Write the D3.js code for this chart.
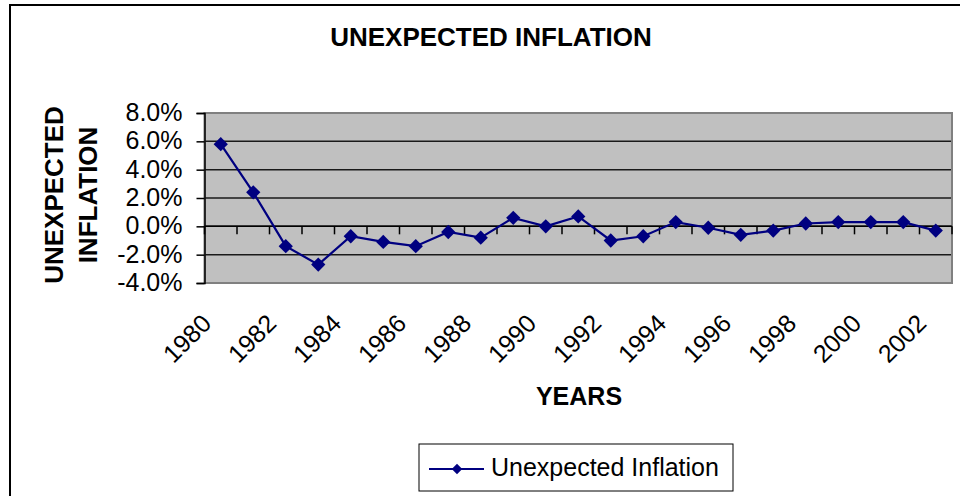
<!DOCTYPE html>
<html>
<head>
<meta charset="utf-8">
<script src="https://cdn.jsdelivr.net/npm/d3@7"></script>
<style>
  body { margin: 0; background: #fff; }
  text { font-family: "Liberation Sans", Arial, sans-serif; fill: #000; }
</style>
</head>
<body>
<div id="canvas"></div>
<script>
// years and unexpected inflation (fraction)
var years = [1980, 1981, 1982, 1983, 1984, 1985, 1986, 1987, 1988, 1989, 1990, 1991,
             1992, 1993, 1994, 1995, 1996, 1997, 1998, 1999, 2000, 2001, 2002];
var inflation = [0.058, 0.024, -0.014, -0.027, -0.007, -0.011, -0.014, -0.004, -0.008, 0.006, 0.000, 0.007,
                 -0.010, -0.007, 0.003, -0.001, -0.006, -0.003, 0.002, 0.003, 0.003, 0.003, -0.003];
var yTicks = [-0.04, -0.02, 0, 0.02, 0.04, 0.06, 0.08];
var labelYears = years.filter(function (d) { return d % 2 === 0; });

var width = 960, height = 496;
var plot = { left: 204.5, right: 952, top: 113, bottom: 283 };

var svg = d3.select("#canvas").append("svg")
    .attr("width", width)
    .attr("height", height);

// outer chart border
svg.append("rect")
    .attr("x", 10).attr("y", 5)
    .attr("width", 1000).attr("height", 600)
    .attr("fill", "#fff")
    .attr("stroke", "#000")
    .attr("stroke-width", 2);

var x = d3.scaleBand().domain(years).range([plot.left, plot.right]).padding(0);
var y = d3.scaleLinear().domain([-0.04, 0.08]).range([plot.bottom, plot.top]);

// plot background
svg.append("rect")
    .attr("x", plot.left).attr("y", plot.top)
    .attr("width", plot.right - plot.left)
    .attr("height", plot.bottom - plot.top)
    .attr("fill", "#c0c0c0");

// gridlines
svg.append("g")
    .selectAll("line")
    .data(yTicks.filter(function (d) { return d > -0.04 && d < 0.08; }))
    .enter().append("line")
    .attr("x1", plot.left).attr("x2", plot.right)
    .attr("y1", function (d) { return y(d); })
    .attr("y2", function (d) { return y(d); })
    .attr("stroke", "#1a1a1a")
    .attr("stroke-width", 1.5);

// plot border
svg.append("rect")
    .attr("x", plot.left).attr("y", plot.top)
    .attr("width", plot.right - plot.left)
    .attr("height", plot.bottom - plot.top)
    .attr("fill", "none")
    .attr("stroke", "#808080")
    .attr("stroke-width", 2);

// y axis
var pct = d3.format(".1%");
var yAxis = svg.append("g")
    .attr("transform", "translate(" + plot.left + ",0)")
    .call(d3.axisLeft(y).tickValues(yTicks).tickSize(8).tickPadding(14)
        .tickFormat(function (d) { return pct(d).replace("\u2212", "-"); }));
yAxis.select(".domain").attr("stroke", "#000").attr("stroke-width", 1.5);
yAxis.selectAll(".tick line").attr("stroke", "#000").attr("stroke-width", 1.5);
yAxis.selectAll(".tick text")
    .attr("font-size", "25px")
    .attr("font-family", "Liberation Sans, Arial, sans-serif")
    .attr("dy", "0.3em");

// x axis at zero, ticks between categories
var xAxisG = svg.append("g");
xAxisG.append("line")
    .attr("x1", plot.left).attr("x2", plot.right)
    .attr("y1", y(0)).attr("y2", y(0))
    .attr("stroke", "#000").attr("stroke-width", 1.5);
xAxisG.selectAll("line.tick")
    .data(years.concat([null]))
    .enter().append("line")
    .attr("class", "tick")
    .attr("x1", function (d, i) { return plot.left + i * x.step(); })
    .attr("x2", function (d, i) { return plot.left + i * x.step(); })
    .attr("y1", y(0)).attr("y2", y(0) + 8)
    .attr("stroke", "#000").attr("stroke-width", 1.5);

// x labels
svg.append("g")
    .selectAll("text")
    .data(labelYears)
    .enter().append("text")
    .attr("transform", function (d) {
        return "translate(" + (x(d) + x.bandwidth() / 2 - 8) + ",325) rotate(-45)";
    })
    .attr("text-anchor", "end")
    .attr("font-size", "25px")
    .text(function (d) { return d; });

// line + markers
var line = d3.line()
    .x(function (d, i) { return x(years[i]) + x.bandwidth() / 2; })
    .y(function (d) { return y(d); });

svg.append("path")
    .datum(inflation)
    .attr("d", line)
    .attr("fill", "none")
    .attr("stroke", "#000080")
    .attr("stroke-width", 2.2);

var diamond = d3.symbol().type(d3.symbolDiamond2).size(130);

svg.append("g")
    .selectAll("path")
    .data(inflation)
    .enter().append("path")
    .attr("d", diamond)
    .attr("transform", function (d, i) {
        return "translate(" + (x(years[i]) + x.bandwidth() / 2) + "," + y(d) + ")";
    })
    .attr("fill", "#000080");

// titles
svg.append("text")
    .attr("x", 491).attr("y", 46)
    .attr("text-anchor", "middle")
    .attr("font-size", "26px")
    .attr("font-weight", "bold")
    .text("UNEXPECTED INFLATION");

svg.append("text")
    .attr("x", 579).attr("y", 405)
    .attr("text-anchor", "middle")
    .attr("font-size", "25px")
    .attr("font-weight", "bold")
    .text("YEARS");

var yTitle = svg.append("text")
    .attr("transform", "translate(63,195) rotate(-90)")
    .attr("text-anchor", "middle")
    .attr("font-size", "26px")
    .attr("font-weight", "bold");
yTitle.append("tspan").attr("x", 0).attr("dy", 0).text("UNEXPECTED");
yTitle.append("tspan").attr("x", 0).attr("dy", 34).text("INFLATION");

// legend
var legend = svg.append("g");
legend.append("rect")
    .attr("x", 419).attr("y", 444)
    .attr("width", 314).attr("height", 47)
    .attr("fill", "#fff")
    .attr("stroke", "#000")
    .attr("stroke-width", 1);
legend.append("line")
    .attr("x1", 429).attr("x2", 484)
    .attr("y1", 469).attr("y2", 469)
    .attr("stroke", "#000080")
    .attr("stroke-width", 2);
legend.append("path")
    .attr("d", d3.symbol().type(d3.symbolDiamond2).size(70))
    .attr("transform", "translate(457,469)")
    .attr("fill", "#000080");
legend.append("text")
    .attr("x", 491).attr("y", 476)
    .attr("font-size", "25px")
    .text("Unexpected Inflation");
</script>
</body>
</html>
